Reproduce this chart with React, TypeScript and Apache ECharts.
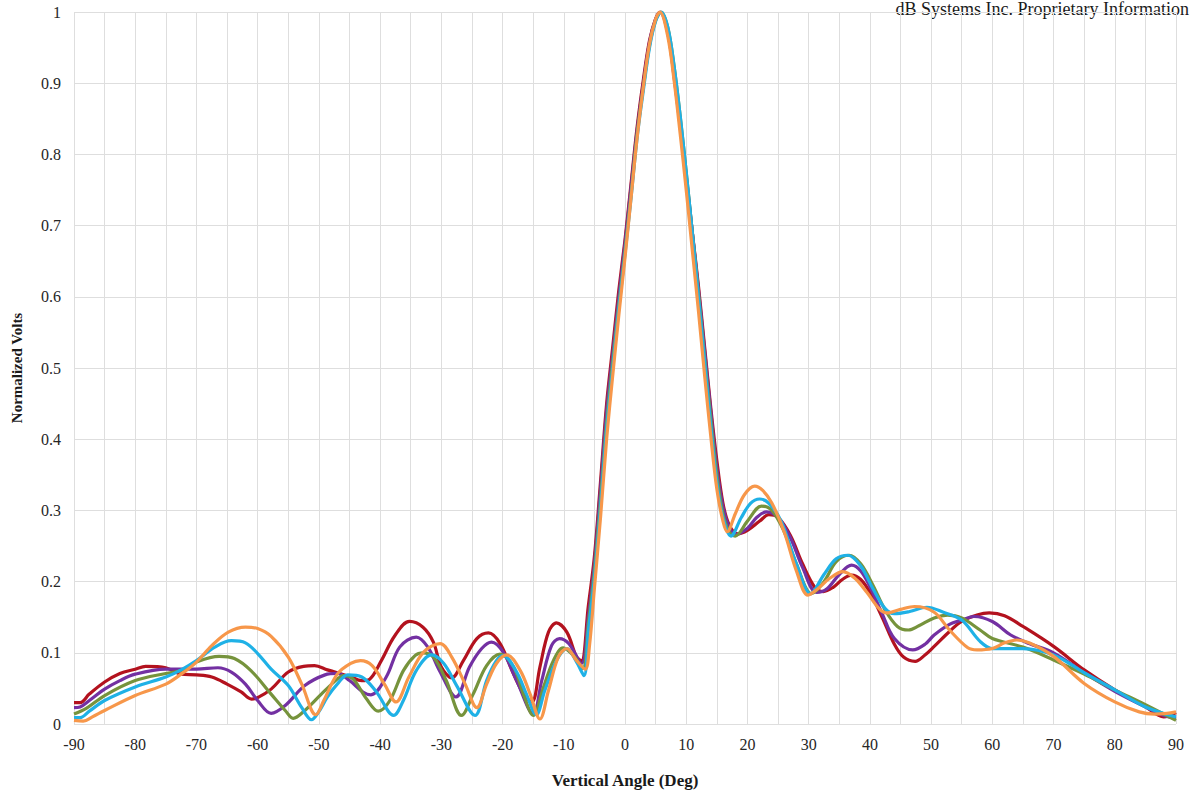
import React, { useEffect, useRef } from "react";
import * as echarts from "echarts";

// Tick labels
const xTicks = [-90, -80, -70, -60, -50, -40, -30, -20, -10, 0, 10, 20, 30, 40, 50, 60, 70, 80, 90];
const seriesNames = ["Series 1", "Series 2", "Series 3", "Series 4", "Series 5"];
const seriesColors = ["#B3121E", "#7330A2", "#76933C", "#1FB1E6", "#F7974A"];

// [angle (deg), normalized volts]
const red: [number, number][] = [
  [-90, 0.03], [-89, 0.03], [-87.5, 0.042], [-85, 0.059], [-82.5, 0.071], [-80, 0.077], [-78.3, 0.081],
  [-75, 0.079], [-72.5, 0.07], [-70, 0.069], [-67.5, 0.066], [-65, 0.056], [-62.7, 0.045], [-61, 0.035],
  [-60, 0.037], [-57.8, 0.049], [-55, 0.073], [-52.5, 0.081], [-50.7, 0.082], [-48.6, 0.076], [-45, 0.067],
  [-43, 0.061], [-41.7, 0.063], [-39.8, 0.089], [-37.6, 0.124], [-35.2, 0.144], [-33, 0.136], [-31.3, 0.115],
  [-30, 0.08], [-28.3, 0.065], [-26.4, 0.089], [-24.2, 0.12], [-22.3, 0.128], [-20.4, 0.113], [-18.2, 0.07],
  [-16.3, 0.038], [-15.2, 0.031], [-13.9, 0.08], [-12.5, 0.129], [-11.2, 0.142], [-9.5, 0.129], [-7.9, 0.094],
  [-7.1, 0.089], [-6, 0.165], [-5, 0.235], [-4, 0.34], [-3, 0.45], [-2, 0.53], [-1, 0.61], [0, 0.68],
  [1, 0.76], [2, 0.84], [3, 0.905], [4, 0.96], [5, 0.99], [5.7, 1.0], [7, 0.97], [8, 0.91], [9, 0.84],
  [10, 0.765], [11, 0.69], [12, 0.615], [13, 0.53], [14, 0.445], [15, 0.37], [16, 0.31], [17, 0.28],
  [18.4, 0.267], [20, 0.272], [22, 0.285], [23.5, 0.294], [25, 0.29], [27, 0.265], [29, 0.225], [31, 0.192],
  [32.4, 0.186], [34, 0.192], [35.5, 0.203], [37, 0.209], [38.5, 0.203], [40, 0.185], [42, 0.15], [44, 0.112],
  [45.5, 0.094], [47.4, 0.088], [49, 0.097], [50.5, 0.109], [53, 0.13], [55, 0.144], [57.5, 0.153],
  [59.5, 0.156], [62, 0.152], [65, 0.137], [70, 0.109], [75, 0.076], [80, 0.048], [85, 0.024], [88, 0.01],
  [90, 0.016],
];

const purple: [number, number][] = [
  [-90, 0.023], [-89, 0.024], [-87.5, 0.033], [-85, 0.049], [-82.5, 0.061], [-80, 0.07], [-75, 0.077],
  [-70, 0.077], [-66.5, 0.079], [-64.3, 0.073], [-62, 0.056], [-60, 0.033], [-57.8, 0.015], [-55.5, 0.026],
  [-52.3, 0.054], [-49, 0.069], [-47, 0.071], [-45, 0.061], [-42.8, 0.045], [-41.5, 0.041], [-39, 0.066],
  [-36.8, 0.108], [-34.1, 0.122], [-32.2, 0.108], [-30.3, 0.075], [-27.6, 0.038], [-25.4, 0.08], [-23.4, 0.106],
  [-21.8, 0.115], [-19.9, 0.101], [-17.7, 0.061], [-15, 0.014], [-13.6, 0.061], [-12, 0.11], [-10.7, 0.12],
  [-9.2, 0.113], [-7.1, 0.085], [-6, 0.15], [-5, 0.225], [-4, 0.33], [-3, 0.44], [-2, 0.52], [-1, 0.6],
  [0, 0.675], [1, 0.755], [2, 0.835], [3, 0.9], [4, 0.957], [5, 0.99], [5.8, 1.0], [7, 0.972], [8, 0.915],
  [9, 0.845], [10, 0.77], [11, 0.69], [12, 0.61], [13, 0.525], [14, 0.44], [15, 0.36], [16, 0.305],
  [17, 0.277], [18, 0.266], [20, 0.275], [21.5, 0.29], [23.1, 0.298], [25, 0.29], [27, 0.262], [29, 0.22],
  [31.3, 0.185], [33, 0.19], [35, 0.21], [37, 0.223], [38.5, 0.215], [40, 0.193], [42, 0.155], [44, 0.12],
  [47, 0.104], [49, 0.112], [50.5, 0.125], [53, 0.14], [55, 0.146], [57, 0.151], [60, 0.144], [63, 0.125],
  [66, 0.113], [70, 0.1], [75, 0.072], [80, 0.046], [85, 0.024], [88, 0.012], [90, 0.008],
];

const green: [number, number][] = [
  [-90, 0.014], [-88, 0.022], [-85, 0.04], [-80, 0.061], [-75, 0.071], [-72.5, 0.075], [-70, 0.087],
  [-66.3, 0.095], [-63.8, 0.092], [-61.1, 0.075], [-57.8, 0.042], [-55.5, 0.019], [-54.2, 0.008],
  [-52.3, 0.019], [-49.6, 0.042], [-47, 0.063], [-46, 0.068], [-44.4, 0.063], [-42.2, 0.035], [-40.3, 0.018],
  [-38.4, 0.033], [-36.2, 0.075], [-34.3, 0.096], [-33, 0.1], [-31.3, 0.094], [-29.2, 0.061], [-26.7, 0.012],
  [-24.8, 0.042], [-22.6, 0.082], [-20.4, 0.098], [-18.2, 0.08], [-16.6, 0.042], [-15, 0.012], [-13.3, 0.052],
  [-11.7, 0.089], [-10.1, 0.107], [-8.4, 0.096], [-6.9, 0.078], [-6, 0.14], [-5, 0.215], [-4, 0.315],
  [-3, 0.425], [-2, 0.51], [-1, 0.59], [0, 0.665], [1, 0.745], [2, 0.83], [3, 0.895], [4, 0.953], [5, 0.988],
  [5.9, 1.0], [7, 0.978], [8, 0.925], [9, 0.855], [10, 0.775], [11, 0.69], [12, 0.605], [13, 0.515],
  [14, 0.43], [15, 0.35], [16, 0.295], [17, 0.27], [18, 0.264], [20, 0.285], [22.3, 0.306], [24, 0.3],
  [26, 0.27], [28, 0.225], [30.5, 0.183], [32.5, 0.2], [34.5, 0.228], [36.6, 0.237], [38.5, 0.225],
  [40.5, 0.195], [42.5, 0.16], [44.5, 0.137], [46.3, 0.132], [48, 0.138], [50.5, 0.149], [52.7, 0.153],
  [55, 0.149], [58, 0.132], [60, 0.12], [65, 0.108], [70, 0.09], [75, 0.07], [80, 0.048], [85, 0.027],
  [90, 0.005],
];

const cyan: [number, number][] = [
  [-90, 0.009], [-89, 0.009], [-87.5, 0.018], [-85, 0.033], [-80, 0.052], [-75, 0.066], [-72.5, 0.076],
  [-70, 0.089], [-67, 0.108], [-64.3, 0.117], [-62, 0.114], [-60, 0.099], [-57.8, 0.077], [-55, 0.054],
  [-52.8, 0.023], [-51.2, 0.006], [-50.1, 0.016], [-48.6, 0.038], [-47, 0.056], [-45.3, 0.069], [-43, 0.066],
  [-40.6, 0.045], [-37.8, 0.012], [-36.2, 0.033], [-34.1, 0.075], [-31.6, 0.097], [-29.6, 0.085],
  [-27.5, 0.054], [-24.5, 0.012], [-22.6, 0.061], [-21, 0.089], [-19.9, 0.096], [-17.7, 0.073], [-16.1, 0.042],
  [-14.5, 0.013], [-13.1, 0.047], [-11.2, 0.089], [-9.5, 0.106], [-7.9, 0.087], [-6.7, 0.068], [-6, 0.13],
  [-5, 0.205], [-4, 0.305], [-3, 0.415], [-2, 0.5], [-1, 0.585], [0, 0.66], [1, 0.74], [2, 0.825], [3, 0.89],
  [4, 0.95], [5, 0.987], [5.9, 1.0], [7, 0.978], [8, 0.925], [9, 0.855], [10, 0.775], [11, 0.69], [12, 0.6],
  [13, 0.51], [14, 0.42], [15, 0.34], [16, 0.29], [17.3, 0.264], [19, 0.29], [20.5, 0.31], [22, 0.316],
  [23.5, 0.31], [25.5, 0.285], [28, 0.225], [30.3, 0.183], [32.5, 0.21], [34.5, 0.232], [36.4, 0.237],
  [38.5, 0.222], [40.5, 0.19], [42.5, 0.162], [44, 0.155], [46.5, 0.158], [49.3, 0.164], [52, 0.157],
  [55, 0.146], [58, 0.116], [60, 0.106], [65, 0.106], [70, 0.097], [75, 0.072], [80, 0.048], [85, 0.024],
  [90, 0.01],
];

const orange: [number, number][] = [
  [-90, 0.005], [-88.5, 0.004], [-87, 0.01], [-85, 0.019], [-80, 0.04], [-75, 0.056], [-72.5, 0.07],
  [-70, 0.087], [-67.5, 0.11], [-64.8, 0.129], [-62, 0.136], [-60, 0.134], [-57.8, 0.123], [-55, 0.094],
  [-52.8, 0.056], [-50.5, 0.013], [-49.2, 0.033], [-47, 0.07], [-44.8, 0.085], [-43.2, 0.089], [-41.3, 0.082],
  [-39.3, 0.056], [-37.4, 0.031], [-35.3, 0.066], [-32.9, 0.101], [-30.2, 0.113], [-28.3, 0.094],
  [-26.1, 0.056], [-24.2, 0.023], [-22.6, 0.056], [-21, 0.085], [-19.3, 0.097], [-17.1, 0.075], [-15.5, 0.042],
  [-13.9, 0.007], [-12.5, 0.047], [-10.9, 0.094], [-9.5, 0.106], [-7.9, 0.089], [-6.5, 0.077], [-5.8, 0.11],
  [-5, 0.19], [-4, 0.29], [-3, 0.4], [-2, 0.49], [-1, 0.575], [0, 0.655], [1, 0.74], [2, 0.825], [3, 0.895],
  [4, 0.955], [5, 0.99], [5.7, 1.0], [7, 0.965], [8, 0.905], [9, 0.83], [10, 0.75], [11, 0.665], [12, 0.58],
  [13, 0.49], [14, 0.405], [15, 0.33], [16, 0.285], [16.7, 0.27], [18, 0.295], [19.5, 0.322], [21.2, 0.334],
  [22.5, 0.328], [24, 0.31], [26, 0.27], [28, 0.215], [29.9, 0.181], [31.5, 0.19], [33.5, 0.205],
  [35.6, 0.214], [37.5, 0.205], [39.5, 0.185], [41.5, 0.162], [42.7, 0.156], [45, 0.161], [47.3, 0.165],
  [50.5, 0.157], [53, 0.132], [56, 0.107], [57.5, 0.104], [60, 0.106], [62, 0.114], [64, 0.118], [66, 0.114],
  [70, 0.095], [75, 0.057], [80, 0.031], [84, 0.017], [86.5, 0.014], [88.5, 0.015], [90, 0.017],
];

const allSeries = [red, purple, green, cyan, orange];

export default function App() {
  const ref = useRef<HTMLDivElement>(null);

  useEffect(() => {
    document.body.style.margin = "0";
    if (!ref.current) return;
    const chart = echarts.init(ref.current, undefined, { renderer: "svg" });
    const serif = "Liberation Serif";
    chart.setOption({
      animation: false,
      backgroundColor: "#ffffff",
      grid: { left: 74, right: 16, top: 12, bottom: 72, containLabel: false },
      graphic: [
        {
          type: "text",
          right: 3,
          top: 0,
          style: {
            text: "dB Systems Inc. Proprietary Information",
            fontFamily: serif,
            fontSize: 18,
            fill: "#1a1a1a",
          },
        },
      ],
      xAxis: {
        type: "value",
        min: -90,
        max: 90,
        interval: 5,
        name: "Vertical Angle (Deg)",
        nameLocation: "middle",
        nameGap: 48,
        nameTextStyle: { fontFamily: serif, fontWeight: "bold", fontSize: 17, color: "#1a1a1a" },
        axisLine: { show: false },
        axisTick: { show: false },
        axisLabel: {
          fontFamily: serif,
          fontSize: 16,
          color: "#262626",
          margin: 12,
          formatter: (v: number) => (xTicks.includes(v) ? String(v) : ""),
        },
        splitLine: { show: true, lineStyle: { color: "#dedede", width: 1 } },
      },
      yAxis: {
        type: "value",
        min: 0,
        max: 1,
        interval: 0.1,
        name: "Normalized Volts",
        nameLocation: "middle",
        nameGap: 50,
        nameRotate: 90,
        nameTextStyle: { fontFamily: serif, fontWeight: "bold", fontSize: 15, color: "#1a1a1a" },
        axisLine: { show: false },
        axisTick: { show: false },
        axisLabel: {
          fontFamily: serif,
          fontSize: 16,
          color: "#262626",
          margin: 13,
          formatter: (v: number) => String(Math.round(v * 10) / 10),
        },
        splitLine: { show: true, lineStyle: { color: "#dedede", width: 1 } },
      },
      series: allSeries.map((data, i) => ({
        name: seriesNames[i],
        type: "line",
        data,
        smooth: 0.35,
        showSymbol: false,
        symbol: "none",
        clip: true,
        lineStyle: { color: seriesColors[i], width: 3.2 },
        itemStyle: { color: seriesColors[i] },
        z: 2 + i,
      })),
    });
    return () => chart.dispose();
  }, []);

  return <div ref={ref} style={{ width: 1192, height: 796 }} />;
}
